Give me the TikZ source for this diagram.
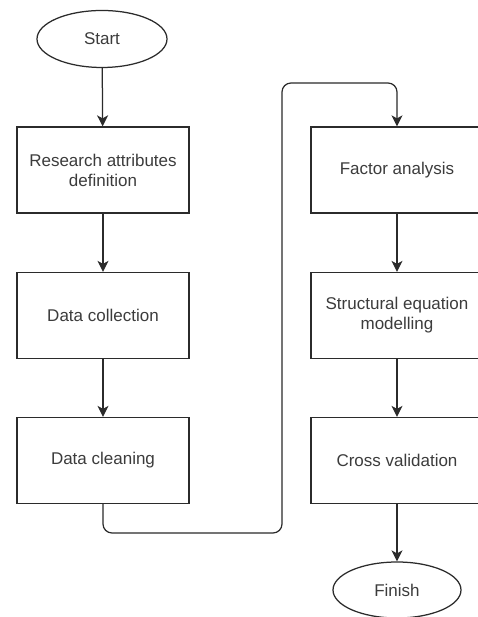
\documentclass[tikz,border=0pt]{standalone}
\usepackage{fontspec}
\setmainfont{Liberation Sans}
\usetikzlibrary{shapes.geometric,arrows.meta}
\definecolor{ink}{HTML}{2B2B2B}
\definecolor{txt}{HTML}{3C3C3C}
\begin{document}
\begin{tikzpicture}[x=1pt,y=1pt,
  line width=1.25pt,
  stepbox/.style={draw=ink, rectangle, minimum width=172pt, minimum height=86pt,
    align=center, text=txt, font=\fontsize{17}{20}\selectfont, inner sep=0pt},
  terminal/.style={draw=ink, ellipse, minimum width=130pt, minimum height=57pt,
    text=txt, font=\fontsize{17}{20}\selectfont, inner sep=0pt},
  tip/.style={-{Stealth[length=11pt,width=11pt,inset=3pt]}},
  flow/.style={draw=ink, tip},
  link/.style={draw=ink, rounded corners=9pt, tip}]
\useasboundingbox (0,0) rectangle (478,617);
\clip (0,0) rectangle (478,617);
\fill[white] (0,0) rectangle (478,617);

% left column
\node[terminal] (start) at (102,578) {Start};
\node[stepbox] (rad) at (103,447) {Research attributes\\definition};
\node[stepbox] (dcol) at (103,301.5) {Data collection};
\node[stepbox] (dcl) at (103,156.5) {Data cleaning};

% right column
\node[stepbox] (fa) at (397,447) {Factor analysis};
\node[stepbox] (sem) at (397,301.5) {Structural equation\\modelling};
\node[stepbox] (cv) at (397,156.5) {Cross validation};
\node[terminal, minimum width=128pt, minimum height=56pt] (fin) at (397,27) {Finish};

% connectors
\draw[flow] (start) -- (rad);
\draw[flow] (rad) -- (dcol);
\draw[flow] (dcol) -- (dcl);
\coordinate (c1) at (103,84);
\coordinate (c2) at (282,84);
\coordinate (c3) at (282,534);
\coordinate (c4) at (397,534);
\draw[link] (dcl.south) -- (c1) -- (c2) -- (c3) -- (c4) -- (fa.north);
\draw[flow] (fa) -- (sem);
\draw[flow] (sem) -- (cv);
\draw[flow] (cv) -- (fin);
\end{tikzpicture}
\end{document}
